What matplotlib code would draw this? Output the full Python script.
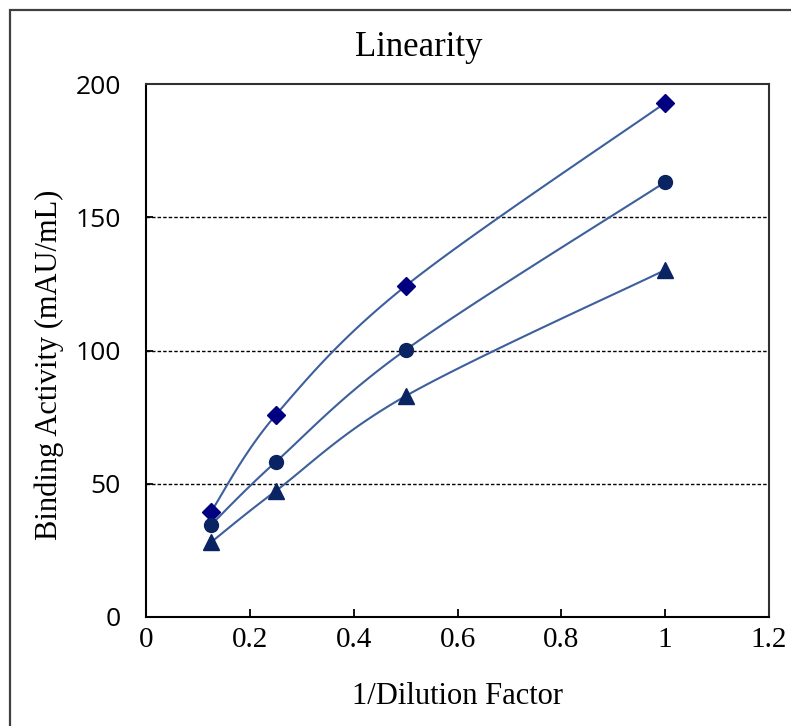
import numpy as np
import matplotlib.pyplot as plt
from matplotlib.patches import Rectangle

# data
dilution = [0.125, 0.25, 0.5, 1.0]
series_a = [39.4, 75.8, 124.2, 192.9]   # diamonds
series_b = [34.5, 58.2, 100.2, 163.2]   # circles
series_c = [28.0, 47.3, 82.9, 130.2]    # triangles
x_ticks = [0, 0.2, 0.4, 0.6, 0.8, 1, 1.2]
x_tick_labels = ['0', '0.2', '0.4', '0.6', '0.8', '1', '1.2']
y_ticks = [0, 50, 100, 150, 200]

W, H = 791, 726
fig = plt.figure(figsize=(W / 100, H / 100), dpi=100)
ax = fig.add_axes([146 / W, 1 - 617 / H, (769 - 146) / W, (617 - 84) / H])
ax.set_xlim(0, 1.2)
ax.set_ylim(0, 200)

# chart area border (runs off the right and bottom like the original)
fig.patches.append(Rectangle((10 / W, -0.05), 1.1, 1 - 10 / H + 0.05,
                             transform=fig.transFigure, fill=False,
                             edgecolor='#404040', lw=1.6))


def smooth(xs, ys, n=40):
    # excel-like smoothed line: bezier segments with catmull-rom control points,
    # computed in screen-ish scaled units
    sx, sy = 623 / 1.2, 533 / 200
    p = np.column_stack([np.array(xs) * sx, np.array(ys) * sy])
    out = []
    for i in range(len(p) - 1):
        p0 = p[i - 1] if i > 0 else p[i]
        p1, p2 = p[i], p[i + 1]
        p3 = p[i + 2] if i + 2 < len(p) else p[i + 1]
        c1 = p1 + (p2 - p0) / 6
        c2 = p2 - (p3 - p1) / 6
        t = np.linspace(0, 1, n)[:, None]
        seg = (1 - t) ** 3 * p1 + 3 * (1 - t) ** 2 * t * c1 + 3 * (1 - t) * t ** 2 * c2 + t ** 3 * p2
        out.append(seg)
    c = np.vstack(out)
    return c[:, 0] / sx, c[:, 1] / sy


line_col = '#3D5F9C'
for ys, mk, mc, ms in [(series_a, 'D', '#000080', 9),
                       (series_b, 'o', '#0A2463', 10),
                       (series_c, '^', '#0A2463', 11)]:
    cx, cy = smooth(dilution, ys)
    ax.plot(cx, cy, color=line_col, lw=1.5, zorder=3)
    ax.plot(dilution, ys, ls='none', marker=mk, color=mc, ms=ms, zorder=4)

for g in [50, 100, 150]:
    ax.axhline(g, color='black', lw=1.0, ls=(0, (2.5, 1.5)), zorder=1)

for s in ['top', 'right']:
    ax.spines[s].set_color('#303030')
for s in ax.spines.values():
    s.set_linewidth(1.5)

ax.set_xticks(x_ticks)
ax.set_xticklabels(x_tick_labels, family='Liberation Serif', fontsize=21)
ax.set_yticks(y_ticks)
ax.set_yticklabels([str(v) for v in y_ticks], family='Open Sans', fontsize=19)
ax.tick_params(axis='x', direction='in', length=6, width=1.3, pad=7)
ax.tick_params(axis='y', direction='in', length=5, width=1.3, pad=18)

fig.text(419 / W, 1 - 47 / H, 'Linearity', ha='center', va='center',
         family='Liberation Serif', fontsize=25)
fig.text(457 / W, 1 - 697 / H, '1/Dilution Factor', ha='center', va='center',
         family='Liberation Serif', fontsize=22)
fig.text(49 / W, 1 - 365 / H, 'Binding Activity (mAU/mL)', ha='center', va='center',
         rotation=90, family='Liberation Serif', fontsize=22)

fig.savefig('out.png', dpi=100)
